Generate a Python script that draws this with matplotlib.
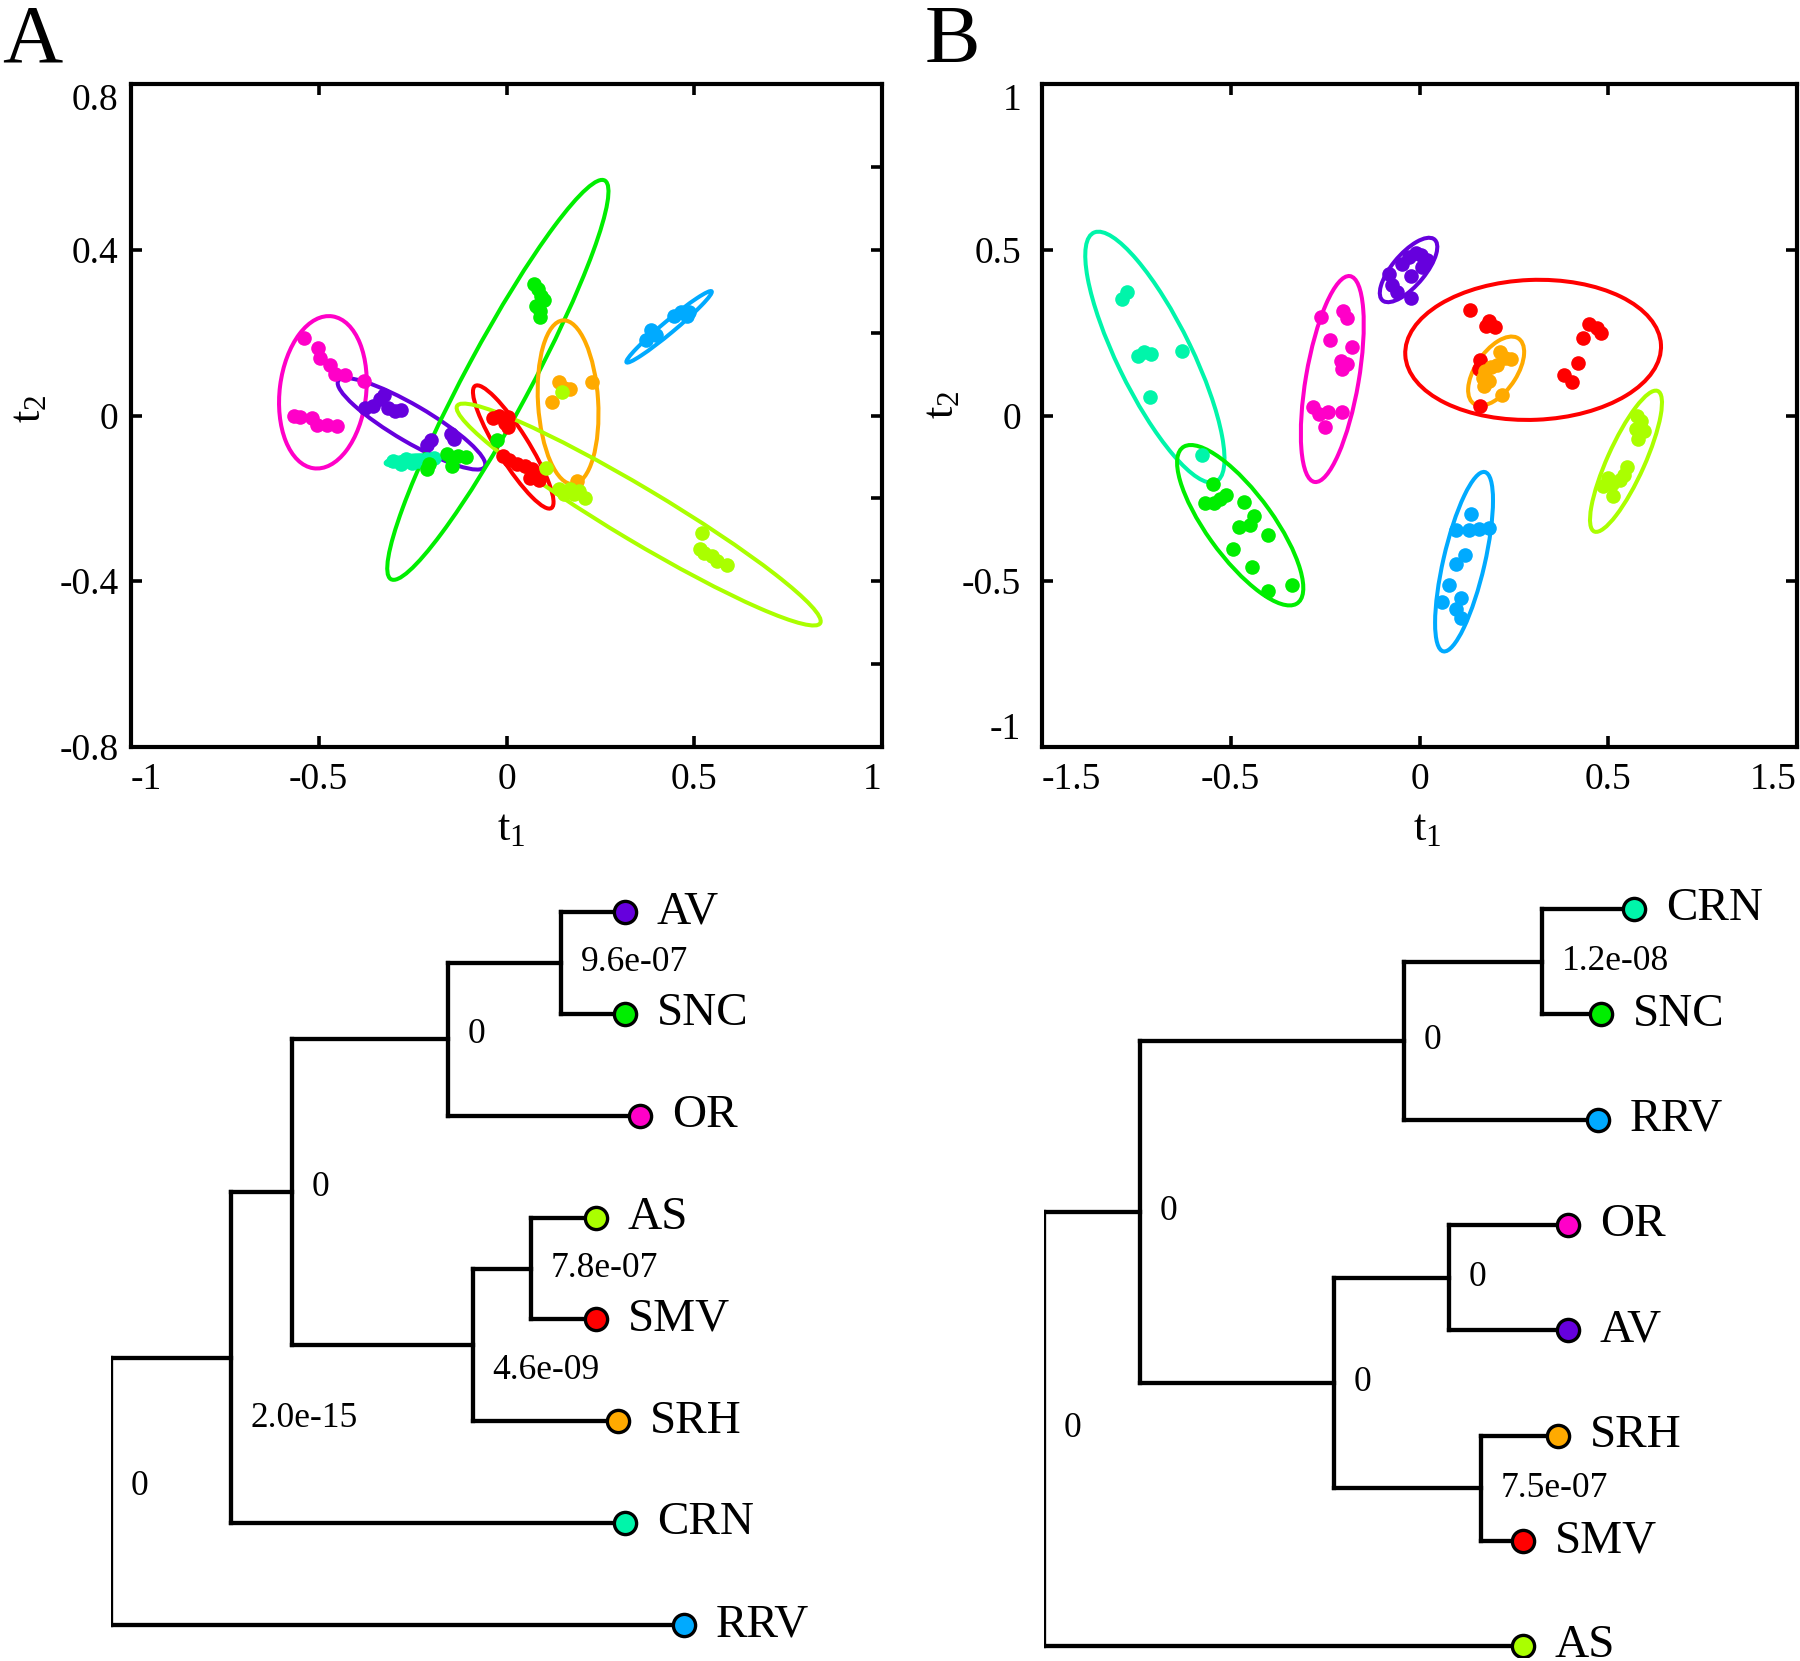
import numpy as np
import matplotlib
matplotlib.use('Agg')
import matplotlib.pyplot as plt
from matplotlib.patches import Ellipse

plt.rcParams['font.family'] = ['Liberation Serif', 'DejaVu Serif']
plt.rcParams['mathtext.fontset'] = 'custom'
plt.rcParams['mathtext.rm'] = 'Liberation Serif'

W, H = 1800, 1661

COLORS = {'AV': '#6600dd', 'SNC': '#00ee00', 'OR': '#ff00c8', 'CRN': '#00f5aa',
          'AS': '#aaff00', 'SMV': '#ff0000', 'SRH': '#ffaa00', 'RRV': '#00aaff'}

# ---- panel A scores (t1, t2) ----
a_or_x = [-0.538, -0.501, -0.496, -0.471, -0.458, -0.431, -0.380, -0.567, -0.550, -0.519, -0.505, -0.478, -0.451]
a_or_y = [0.186, 0.164, 0.139, 0.122, 0.100, 0.097, 0.083, -0.001, -0.003, -0.006, -0.022, -0.022, -0.026]
a_av_x = [-0.376, -0.356, -0.336, -0.326, -0.315, -0.298, -0.281, -0.213, -0.202, -0.148, -0.139]
a_av_y = [0.017, 0.022, 0.039, 0.050, 0.017, 0.011, 0.014, -0.070, -0.059, -0.044, -0.056]
a_crn_x = [-0.302, -0.281, -0.268, -0.251, -0.234, -0.213, -0.193]
a_crn_y = [-0.111, -0.116, -0.105, -0.114, -0.109, -0.105, -0.103]
a_snc_x = [0.072, 0.083, 0.092, 0.099, 0.079, 0.088, 0.090, -0.213, -0.207, -0.159, -0.145, -0.128, -0.109, -0.145, -0.026]
a_snc_y = [0.317, 0.306, 0.289, 0.278, 0.264, 0.252, 0.237, -0.128, -0.117, -0.092, -0.106, -0.097, -0.100, -0.122, -0.059]
a_smv_x = [-0.037, -0.020, -0.005, 0.004, 0.004, -0.010, 0.007, 0.027, 0.048, 0.068, 0.079, 0.086, 0.063]
a_smv_y = [-0.006, 0.000, -0.017, -0.003, -0.028, -0.097, -0.108, -0.117, -0.122, -0.128, -0.144, -0.156, -0.152]
a_srh_x = [0.140, 0.154, 0.168, 0.120, 0.228, 0.188]
a_srh_y = [0.080, 0.067, 0.063, 0.033, 0.080, -0.159]
a_as_x = [0.147, 0.140, 0.154, 0.168, 0.181, 0.194, 0.208, 0.106, 0.520, 0.514, 0.527, 0.548, 0.561, 0.588]
a_as_y = [0.056, -0.178, -0.189, -0.178, -0.189, -0.183, -0.200, -0.126, -0.283, -0.322, -0.333, -0.339, -0.350, -0.361]
a_rrv_x = [0.385, 0.398, 0.371, 0.446, 0.466, 0.480, 0.486]
a_rrv_y = [0.206, 0.194, 0.183, 0.239, 0.250, 0.239, 0.250]

# confidence ellipses A: centre, semi axes, angle (deg)
a_ell_names = ['OR', 'AV', 'CRN', 'SNC', 'SMV', 'SRH', 'AS', 'RRV']
a_ell_cx = [-0.489, -0.253, -0.254, -0.023, 0.018, 0.164, 0.352, 0.433]
a_ell_cy = [0.056, -0.020, -0.109, 0.086, -0.076, 0.032, -0.239, 0.214]
a_ell_a = [0.185, 0.221, 0.068, 0.559, 0.179, 0.198, 0.550, 0.142]
a_ell_b = [0.115, 0.045, 0.012, 0.085, 0.040, 0.080, 0.065, 0.015]
a_ell_ang = [82, -27.8, 5, 59.3, -55.2, 94, -28.4, 37]

# ---- panel B scores ----
b_crn_x = [-0.787, -0.774, -0.747, -0.730, -0.711, -0.628, -0.714, -0.577]
b_crn_y = [0.352, 0.373, 0.180, 0.191, 0.185, 0.196, 0.055, -0.120]
b_snc_x = [-0.548, -0.568, -0.545, -0.528, -0.512, -0.465, -0.479, -0.448, -0.438, -0.402, -0.495, -0.445, -0.402, -0.339]
b_snc_y = [-0.207, -0.265, -0.265, -0.251, -0.240, -0.262, -0.336, -0.331, -0.304, -0.359, -0.403, -0.456, -0.528, -0.511]
b_or_x = [-0.262, -0.202, -0.191, -0.238, -0.180, -0.209, -0.193, -0.206, -0.282, -0.266, -0.242, -0.251, -0.205]
b_or_y = [0.297, 0.314, 0.294, 0.228, 0.207, 0.163, 0.156, 0.141, 0.025, 0.004, 0.010, -0.035, 0.011]
b_av_x = [-0.082, -0.073, -0.060, -0.047, -0.027, -0.009, 0.004, 0.007, -0.023, -0.023, 0.020]
b_av_y = [0.428, 0.394, 0.373, 0.456, 0.477, 0.490, 0.483, 0.449, 0.421, 0.355, 0.470]
b_smv_x = [0.134, 0.177, 0.201, 0.184, 0.161, 0.157, 0.161, 0.449, 0.469, 0.480, 0.432, 0.419, 0.383, 0.403]
b_smv_y = [0.318, 0.269, 0.267, 0.286, 0.166, 0.141, 0.030, 0.276, 0.265, 0.249, 0.235, 0.159, 0.122, 0.101]
b_srh_x = [0.214, 0.227, 0.206, 0.190, 0.174, 0.168, 0.184, 0.170, 0.243, 0.219]
b_srh_y = [0.193, 0.173, 0.152, 0.145, 0.135, 0.113, 0.104, 0.090, 0.169, 0.061]
b_as_x = [0.576, 0.586, 0.573, 0.596, 0.580, 0.549, 0.543, 0.499, 0.485, 0.512, 0.509, 0.532]
b_as_y = [0.000, -0.017, -0.041, -0.048, -0.072, -0.155, -0.180, -0.189, -0.214, -0.242, -0.207, -0.196]
b_rrv_x = [0.137, 0.097, 0.130, 0.157, 0.184, 0.120, 0.097, 0.077, 0.060, 0.110, 0.097, 0.110]
b_rrv_y = [-0.297, -0.345, -0.345, -0.343, -0.338, -0.421, -0.449, -0.511, -0.564, -0.550, -0.583, -0.610]

b_ell_names = ['CRN', 'SNC', 'OR', 'AV', 'SMV', 'SRH', 'AS', 'RRV']
b_ell_cx = [-0.701, -0.475, -0.231, -0.029, 0.301, 0.203, 0.547, 0.118]
b_ell_cy = [0.176, -0.331, 0.110, 0.439, 0.198, 0.134, -0.138, -0.441]
b_ell_a = [0.409, 0.280, 0.314, 0.115, 0.339, 0.115, 0.228, 0.276]
b_ell_b = [0.100, 0.090, 0.070, 0.045, 0.211, 0.056, 0.050, 0.055]
b_ell_ang = [-67, -57.9, 81.5, 54.5, 2.7, 61, 68.6, 78.6]

# ---- dendrograms: leaves top to bottom, tip distance, merges (i, j, height, p-value) ----
tree_a_leaves = ['AV', 'SNC', 'OR', 'AS', 'SMV', 'SRH', 'CRN', 'RRV']
tree_a_tips = [5.14, 5.14, 5.29, 4.85, 4.85, 5.07, 5.14, 5.73]
tree_a_merges = [(0, 1, 4.50, '9.6e-07'), (8, 2, 3.37, '0'), (3, 4, 4.20, '7.8e-07'),
                 (10, 5, 3.62, '4.6e-09'), (9, 11, 1.81, '0'), (12, 6, 1.20, '2.0e-15'),
                 (13, 7, 0.0, '0')]
tree_a_label_dy = [0, -0.05, 0, 0.25, -0.05, 0.6, -0.05]

tree_b_leaves = ['CRN', 'SNC', 'RRV', 'OR', 'AV', 'SRH', 'SMV', 'AS']
tree_b_tips = [5.90, 5.57, 5.54, 5.24, 5.24, 5.14, 4.79, 4.79]
tree_b_merges = [(0, 1, 4.98, '1.2e-08'), (8, 2, 3.60, '0'), (3, 4, 4.05, '0'),
                 (5, 6, 4.37, '7.5e-07'), (10, 11, 2.90, '0'), (9, 12, 0.96, '0'),
                 (13, 7, 0.0, '0')]
tree_b_label_dy = [0, 0, 0, 0, 0, 0, 0]


def place(fig, left, top, w, h):
    """axes from pixel box"""
    return fig.add_axes([left / W, 1 - (top + h) / H, w / W, h / H])


def scatter_panel(ax, groups, names, cx, cy, sa, sb, ang):
    for n, x0, y0, a, b, t in zip(names, cx, cy, sa, sb, ang):
        ax.add_patch(Ellipse((x0, y0), 2 * a, 2 * b, angle=t, fill=False,
                             ec=COLORS[n], lw=2.9, zorder=2))
    for n, xs, ys in groups:
        ax.plot(xs, ys, 'o', ms=10.5, color=COLORS[n], mec='none', zorder=3)
    for s in ax.spines.values():
        s.set_linewidth(3.0)
    ax.tick_params(which='both', direction='in', length=8, width=2.6,
                   top=True, right=True, labelsize=27)


def end_align(labels):
    labels[0].set_ha('left')
    labels[-1].set_ha('right')


def draw_tree(ax, leaves, tips, merges, label_dy):
    n = len(leaves)
    ypos = {i: float(i) for i in range(n)}
    xpos = {i: tips[i] for i in range(n)}
    for k, (i, j, h, lab) in enumerate(merges):
        for c in (i, j):
            ax.plot([h, xpos[c]], [ypos[c], ypos[c]], color='k', lw=3.1,
                    solid_capstyle='projecting', zorder=1)
        ax.plot([h, h], [ypos[i], ypos[j]], color='k', lw=3.1,
                solid_capstyle='projecting', zorder=1)
        ypos[n + k] = (ypos[i] + ypos[j]) / 2
        xpos[n + k] = h
        ax.annotate(lab, (h, ypos[n + k] + label_dy[k]), xytext=(14, 0),
                    textcoords='offset points', ha='left', va='center', fontsize=25.5)
    for i, name in enumerate(leaves):
        ax.plot(tips[i], i, 'o', ms=16, mfc=COLORS[name], mec='k', mew=2.4, zorder=5)
        ax.annotate(name, (tips[i], i), xytext=(23, 0), textcoords='offset points',
                    ha='left', va='center', fontsize=34)
    ax.set_xlim(0, 7)
    ax.axis('off')


fig = plt.figure(figsize=(W / 100, H / 100), dpi=100)

# panel A
ax_a = place(fig, 131, 84, 751, 663)
scatter_panel(ax_a,
              [('OR', a_or_x, a_or_y), ('AV', a_av_x, a_av_y), ('CRN', a_crn_x, a_crn_y),
               ('SNC', a_snc_x, a_snc_y), ('SMV', a_smv_x, a_smv_y), ('SRH', a_srh_x, a_srh_y),
               ('AS', a_as_x, a_as_y), ('RRV', a_rrv_x, a_rrv_y)],
              a_ell_names, a_ell_cx, a_ell_cy, a_ell_a, a_ell_b, a_ell_ang)
ax_a.set_xlim(-1, 1)
ax_a.set_ylim(-0.8, 0.8)
ax_a.set_xticks([-1, -0.5, 0, 0.5, 1])
end_align(ax_a.set_xticklabels(['-1', '-0.5', '0', '0.5', '1']))
ax_a.set_yticks([-0.8, -0.4, 0, 0.4, 0.8])
ylabs = ax_a.set_yticklabels(['-0.8', '-0.4', '0', '0.4', '0.8'])
ylabs[-1].set_va('top')
ax_a.set_yticks([-0.6, -0.2, 0.2, 0.6], minor=True)
ax_a.tick_params(which='minor', left=False, right=True)
ax_a.tick_params(axis='x', pad=11)
ax_a.tick_params(axis='y', pad=9)
ax_a.text(0.506, -0.124, r'$\mathrm{t_1}$', transform=ax_a.transAxes,
          ha='center', va='center', fontsize=32)
ax_a.text(-0.136, 0.511, r'$\mathrm{t_2}$', transform=ax_a.transAxes,
          ha='center', va='center', fontsize=32, rotation=90)

# panel B
ax_b = place(fig, 1042, 84, 755, 663)
scatter_panel(ax_b,
              [('CRN', b_crn_x, b_crn_y), ('SNC', b_snc_x, b_snc_y), ('OR', b_or_x, b_or_y),
               ('AV', b_av_x, b_av_y), ('SMV', b_smv_x, b_smv_y), ('SRH', b_srh_x, b_srh_y),
               ('AS', b_as_x, b_as_y), ('RRV', b_rrv_x, b_rrv_y)],
              b_ell_names, b_ell_cx, b_ell_cy, b_ell_a, b_ell_b, b_ell_ang)
ax_b.set_xlim(-1, 1)
ax_b.set_ylim(-1, 1)
ax_b.set_xticks([-1, -0.5, 0, 0.5, 1])
end_align(ax_b.set_xticklabels(['-1.5', '-0.5', '0', '0.5', '1.5']))
ax_b.set_yticks([-1, -0.5, 0, 0.5, 1])
ylabs = ax_b.set_yticklabels(['-1', '-0.5', '0', '0.5', '1'])
ylabs[0].set_va('bottom')
ylabs[-1].set_va('top')
ax_b.tick_params(axis='x', pad=11)
ax_b.tick_params(axis='y', pad=15)
ax_b.text(0.51, -0.124, r'$\mathrm{t_1}$', transform=ax_b.transAxes,
          ha='center', va='center', fontsize=32)
ax_b.text(-0.132, 0.516, r'$\mathrm{t_2}$', transform=ax_b.transAxes,
          ha='center', va='center', fontsize=32, rotation=90)

fig.text(2 / W, 1 - 4 / H, 'A', fontsize=60, ha='left', va='top')
fig.text(925 / W, 1 - 4 / H, 'B', fontsize=60, ha='left', va='top')

# dendrograms
tr_a = place(fig, 111, 912 - 0.5 * 101.86, 700, 7.8 * 101.86)
tr_a.set_ylim(7.3, -0.5)
draw_tree(tr_a, tree_a_leaves, tree_a_tips, tree_a_merges, tree_a_label_dy)

tr_b = place(fig, 1044, 909 - 0.5 * 105.3, 700, 7.6 * 105.3)
tr_b.set_ylim(7.1, -0.5)
draw_tree(tr_b, tree_b_leaves, tree_b_tips, tree_b_merges, tree_b_label_dy)

fig.savefig('out.png', dpi=100)
